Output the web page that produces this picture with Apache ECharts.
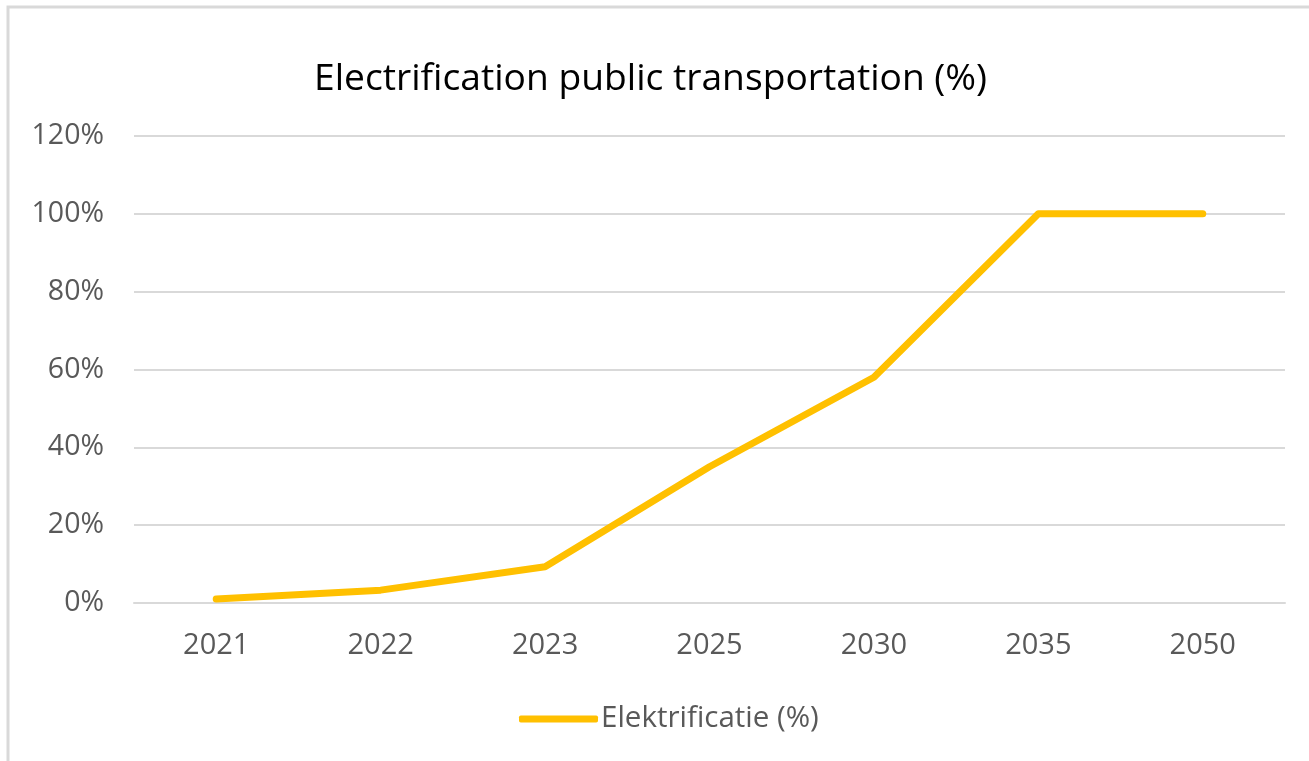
<!DOCTYPE html>
<html>
<head>
<meta charset="utf-8">
<script src="https://cdn.jsdelivr.net/npm/echarts@6/dist/echarts.min.js"></script>
<style>
  html, body { margin: 0; padding: 0; background: #ffffff; }
  #chart { width: 1309px; height: 761px; }
</style>
</head>
<body>
<div id="chart"></div>
<script>
const categories = ['2021', '2022', '2023', '2025', '2030', '2035', '2050'];
const electrification = [0.01, 0.033, 0.093, 0.35, 0.58, 1.0, 1.0];
const seriesName = 'Elektrificatie (%)';
const titleText = 'Electrification public transportation (%)';

const chart = echarts.init(document.getElementById('chart'), null, { renderer: 'canvas' });
const font = '"Open Sans", "Noto Sans", sans-serif';

chart.setOption({
  backgroundColor: '#ffffff',
  animation: false,
  graphic: [{
    type: 'rect',
    shape: { x: 8, y: 7, width: 1400, height: 800 },
    style: { fill: 'none', stroke: '#d9d9d9', lineWidth: 3 },
    silent: true
  }],
  title: {
    text: titleText,
    left: 309,
    top: 56,
    textStyle: { fontFamily: font, fontSize: 37.2, fontWeight: 'normal', color: '#000000' }
  },
  legend: {
    left: 514,
    top: 699,
    icon: 'roundRect',
    itemWidth: 79,
    itemHeight: 7,
    itemGap: 4,
    textStyle: { fontFamily: font, fontSize: 29.5, color: '#595959', padding: [0, 0, 0, -2] },
    data: [seriesName]
  },
  grid: { left: 134, right: 24, top: 136, bottom: 158, containLabel: false },
  xAxis: {
    type: 'category',
    data: categories,
    boundaryGap: true,
    axisLine: { show: true, lineStyle: { color: '#d9d9d9', width: 2 } },
    axisTick: { show: false },
    axisLabel: { fontFamily: font, fontSize: 29, color: '#595959', margin: 28 }
  },
  yAxis: {
    type: 'value',
    min: 0,
    max: 1.2,
    interval: 0.2,
    axisLine: { show: false },
    axisTick: { show: false },
    splitLine: { lineStyle: { color: '#d9d9d9', width: 2 } },
    axisLabel: {
      fontFamily: font, fontSize: 28.5, color: '#595959', margin: 30,
      formatter: v => Math.round(v * 100) + '%'
    }
  },
  series: [{
    name: seriesName,
    type: 'line',
    data: electrification,
    symbol: 'none',
    smooth: false,
    itemStyle: { color: '#FFC000' },
    lineStyle: { color: '#FFC000', width: 7, cap: 'round', join: 'round' }
  }]
});
</script>
</body>
</html>
